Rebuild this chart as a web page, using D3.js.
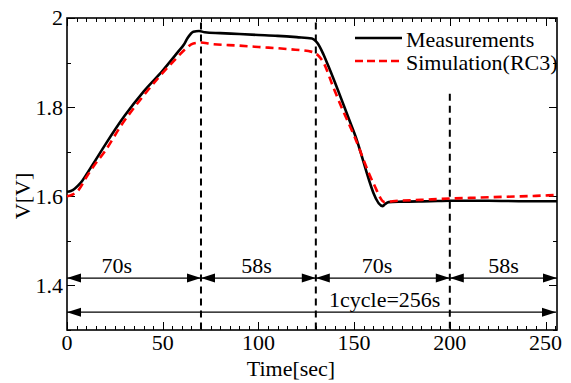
<!DOCTYPE html>
<html><head><meta charset="utf-8">
<script src="https://cdn.jsdelivr.net/npm/d3@7"></script>
<style>html,body{margin:0;padding:0;background:#fff;}svg{display:block;}</style>
</head><body>
<svg id="c" width="571" height="383"></svg>
<script>
// ---- data ----
const measT = [0,2,4,6,8,10,14,20,30,40,50,58,61,63,66,69,72,80,90,100,110,120,128,130,132,134,136,150,165,166,168,175,190,200,220,240,256];
const measV = [1.610,1.612,1.617,1.625,1.635,1.648,1.675,1.716,1.780,1.835,1.882,1.924,1.940,1.955,1.969,1.971,1.968,1.966,1.964,1.962,1.960,1.957,1.954,1.948,1.936,1.918,1.898,1.743,1.578,1.582,1.587,1.588,1.589,1.590,1.590,1.589,1.589];
const simT = [0,3,6,10,14,20,28,38,48,57,62,66,70,75,90,100,116,128,131,134,139,144,150,160,166,170,185,200,215,230,245,256];
const simV = [1.600,1.604,1.614,1.642,1.668,1.702,1.757,1.815,1.867,1.909,1.931,1.943,1.945,1.942,1.938,1.935,1.930,1.924,1.917,1.900,1.846,1.794,1.736,1.630,1.587,1.589,1.592,1.595,1.597,1.599,1.601,1.603];
const xTicks = [0,50,100,150,200,250];
const yTicks = [1.4,1.6,1.8,2];
const yTickLabels = ["1.4","1.6","1.8","2"];
const phaseBounds = [0,70,130,200,256];
const phaseLabels = ["70s","58s","70s","58s"];
const phaseLabelAt = [26,99,162,228];
const cycleLabel = "1cycle=256s";
const cycleLabelAt = 166;
const dividers = [{t:70,v:1.99},{t:130,v:1.99},{t:200,v:1.83}];
const seriesNames = ["Measurements","Simulation(RC3)"];

// ---- layout ----
const L=67,R=557,T=18,B=330;
const x=d3.scaleLinear().domain([0,256]).range([L,R]);
const y=d3.scaleLinear().domain([1.3,2.0]).range([B,T]);
const svg=d3.select("#c");
function sty(sel){ return sel.style("font-family",'"Liberation Serif"').style("font-size","22px").attr("fill","#000"); }

// ticks
const g=svg.append("g").attr("stroke","#000").attr("stroke-width",1);
d3.range(0,257,5).forEach(t=>{
  const maj=t%50===0, len=maj?8:4, px=Math.round(x(t))+0.5;
  g.append("line").attr("x1",px).attr("x2",px).attr("y1",B).attr("y2",B-len);
  g.append("line").attr("x1",px).attr("x2",px).attr("y1",T).attr("y2",T+len);
});
d3.range(13,21).map(d=>d/10).forEach(v=>{
  const maj=Math.round(v*10)%2===0, len=maj?8:4, py=Math.round(y(v))+0.5;
  g.append("line").attr("x1",L).attr("x2",L+len).attr("y1",py).attr("y2",py);
  g.append("line").attr("x1",R).attr("x2",R-len).attr("y1",py).attr("y2",py);
});
// frame
svg.append("rect").attr("x",L).attr("y",T).attr("width",R-L).attr("height",B-T)
  .attr("fill","none").attr("stroke","#000").attr("stroke-width",1.6);

// tick labels
sty(svg.append("g").selectAll("text").data(xTicks).join("text")
  .attr("x",d=>x(d)).attr("y",350).attr("text-anchor","middle").text(d=>d));
sty(svg.append("g").selectAll("text").data(yTicks).join("text")
  .attr("x",63).attr("y",d=>y(d)).attr("dy","0.34em").attr("text-anchor","end")
  .text((d,i)=>yTickLabels[i]));
// titles
sty(svg.append("text").attr("x",291).attr("y",376).attr("text-anchor","middle").text("Time[sec]"));
sty(svg.append("text").attr("transform","translate(30,196) rotate(-90)").attr("text-anchor","middle").text("V[V]"));

// dividers
svg.append("g").selectAll("line").data(dividers).join("line")
  .attr("x1",d=>x(d.t)).attr("x2",d=>x(d.t)).attr("y1",d=>y(d.v)).attr("y2",B+3)
  .attr("stroke","#000").attr("stroke-width",2).attr("stroke-dasharray","7,5");

// arrows
function head(px,py,dir){
  const len=14,hw=4.5;
  svg.append("path").attr("d",`M${px},${py}L${px-dir*len},${py-hw}L${px-dir*len},${py+hw}Z`).attr("fill","#000");
}
const yRow1=y(1.4165), yRow2=y(1.340);
phaseLabels.forEach((lab,i)=>{
  const a=x(phaseBounds[i]), b=x(phaseBounds[i+1]);
  svg.append("line").attr("x1",a).attr("x2",b).attr("y1",yRow1).attr("y2",yRow1).attr("stroke","#000").attr("stroke-width",1.2);
  head(a,yRow1,-1); head(b,yRow1,1);
  sty(svg.append("text").attr("x",x(phaseLabelAt[i])).attr("y",yRow1-5).attr("text-anchor","middle").text(lab));
});
svg.append("line").attr("x1",x(0)).attr("x2",x(256)-1).attr("y1",yRow2).attr("y2",yRow2).attr("stroke","#000").attr("stroke-width",1.2);
head(x(0),yRow2,-1); head(x(256)-1,yRow2,1);
sty(svg.append("text").attr("x",x(cycleLabelAt)).attr("y",yRow2-5).attr("text-anchor","middle").text(cycleLabel));

// series
const line=d3.line().x(d=>x(d[0])).y(d=>y(d[1])).curve(d3.curveMonotoneX);
svg.append("path").datum(measT.map((t,i)=>[t,measV[i]])).attr("d",line)
  .attr("fill","none").attr("stroke","#000").attr("stroke-width",2.6);
svg.append("path").datum(simT.map((t,i)=>[t,simV[i]])).attr("d",line)
  .attr("fill","none").attr("stroke","#ff0000").attr("stroke-width",2.6).attr("stroke-dasharray","8,5");

// legend
svg.append("line").attr("x1",355).attr("x2",402).attr("y1",38).attr("y2",38).attr("stroke","#000").attr("stroke-width",2.6);
svg.append("line").attr("x1",355).attr("x2",402).attr("y1",61).attr("y2",61).attr("stroke","#ff0000").attr("stroke-width",2.6).attr("stroke-dasharray","8,4");
sty(svg.append("text").attr("x",406).attr("y",47).text(seriesNames[0]));
sty(svg.append("text").attr("x",406).attr("y",70).text(seriesNames[1]));
</script>
</body></html>
